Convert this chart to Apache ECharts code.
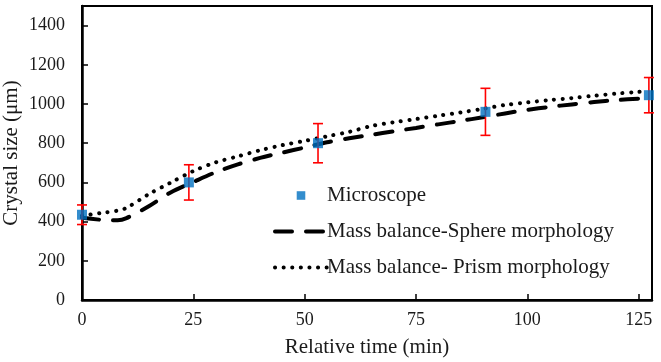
<!DOCTYPE html>
<html>
<head>
<meta charset="utf-8">
<script src="https://cdn.jsdelivr.net/npm/echarts@6/dist/echarts.min.js"></script>
<style>
  html, body { margin: 0; padding: 0; background: #fff; }
  #chart { width: 661px; height: 362px; }
</style>
</head>
<body>
<div id="chart"></div>
<script>
// measured points (microscope) with error bars
var microTime = [0, 24, 53, 90.6, 127.3];
var microSize = [435, 600, 800, 960, 1045];
var microErr = [50, 90, 100, 120, 90];

// mass balance curves
var curveTime = [0, 5, 8, 10, 15, 20, 25, 30, 35, 40, 45, 50, 55, 60, 65, 70, 75, 80, 85, 90, 95, 100, 105, 110, 115, 120, 125, 127];
var sphereSize = [420, 408, 407, 418, 478, 550, 602, 652, 692, 725, 752, 778, 805, 825, 843, 861, 878, 896, 914, 932, 952, 970, 985, 998, 1010, 1020, 1027, 1030];
var prismSize = [430, 446, 456, 470, 540, 600, 658, 702, 733, 764, 790, 812, 835, 858, 888, 907, 923, 940, 957, 975, 995, 1008, 1020, 1030, 1042, 1053, 1062, 1066];

var xTicks = [0, 25, 50, 75, 100, 125];
var yTicks = [0, 200, 400, 600, 800, 1000, 1200, 1400];

var FONT = '"Liberation Serif", "Times New Roman", serif';

var dashStyle = { color: '#000', width: 4, type: [17, 14], cap: 'round' };
var dotStyle = { color: '#000', width: 4, type: [0.1, 8.5], cap: 'round' };

function pairs(xs, ys) {
  var out = [];
  for (var i = 0; i < xs.length; i++) out.push([xs[i], ys[i]]);
  return out;
}

var errData = [];
for (var i = 0; i < microTime.length; i++) {
  errData.push([microTime[i], microSize[i] - microErr[i], microSize[i] + microErr[i]]);
}

var chart = echarts.init(document.getElementById('chart'), null, { renderer: 'canvas' });

chart.setOption({
  animation: false,
  backgroundColor: '#fff',
  grid: {
    left: 82, right: 9, top: 6, bottom: 62,
    outerBoundsMode: 'none',
    containLabel: false,
    show: true,
    borderColor: '#000',
    borderWidth: 2
  },
  legend: {
    orient: 'vertical',
    left: 268,
    top: 180,
    itemWidth: 52,
    itemHeight: 12,
    itemGap: 15,
    textStyle: { fontFamily: FONT, fontSize: 21, color: '#1a1a1a', padding: [0, 0, 0, -5] },
    data: [
      { name: 'Microscope', icon: 'path://M0,0M14,14M2,2H12V12H2Z' },
      { name: 'Mass balance-Sphere morphology', itemStyle: { opacity: 0 }, lineStyle: dashStyle },
      { name: 'Mass balance- Prism morphology', itemStyle: { opacity: 0 }, lineStyle: dotStyle }
    ]
  },
  xAxis: {
    type: 'value',
    min: 0,
    max: 128,
    interval: 25,
    name: 'Relative time (min)',
    nameLocation: 'middle',
    nameGap: 37,
    nameMoveOverlap: false,
    nameTextStyle: { fontFamily: FONT, fontSize: 21, color: '#1a1a1a' },
    axisLine: { lineStyle: { color: '#000', width: 2.5 } },
    axisTick: { inside: true, length: 6, lineStyle: { color: '#000', width: 1.5 } },
    axisLabel: {
      fontFamily: FONT, fontSize: 18, color: '#1a1a1a', margin: 11,
      showMaxLabel: false,
      formatter: function (v) { return xTicks.indexOf(v) >= 0 ? String(v) : ''; }
    },
    splitLine: { show: false }
  },
  yAxis: {
    type: 'value',
    min: 0,
    max: 1500,
    interval: 200,
    name: 'Crystal size (μm)',
    nameLocation: 'middle',
    nameRotate: 90,
    nameGap: 60,
    nameMoveOverlap: false,
    nameTextStyle: { fontFamily: FONT, fontSize: 21, color: '#1a1a1a' },
    axisLine: { lineStyle: { color: '#000', width: 2.5 } },
    axisTick: { inside: true, length: 6, lineStyle: { color: '#000', width: 1.5 } },
    axisLabel: {
      fontFamily: FONT, fontSize: 18, color: '#1a1a1a', margin: 17,
      showMaxLabel: false,
      formatter: function (v) { return yTicks.indexOf(v) >= 0 ? String(v) : ''; }
    },
    splitLine: { show: false }
  },
  series: [
    {
      name: 'Mass balance-Sphere morphology',
      type: 'line',
      smooth: 0.3,
      symbol: 'none',
      color: '#000',
      lineStyle: dashStyle,
      data: pairs(curveTime, sphereSize),
      z: 2
    },
    {
      name: 'Mass balance- Prism morphology',
      type: 'line',
      smooth: 0.3,
      symbol: 'none',
      color: '#000',
      lineStyle: dotStyle,
      data: pairs(curveTime, prismSize),
      z: 2
    },
    {
      name: 'errors',
      type: 'custom',
      clip: false,
      z: 3,
      renderItem: function (params, api) {
        var top = api.coord([api.value(0), api.value(2)]);
        var bot = api.coord([api.value(0), api.value(1)]);
        var w = 5;
        var st = { stroke: '#ff0000', lineWidth: 1.6 };
        return {
          type: 'group',
          children: [
            { type: 'line', shape: { x1: top[0], y1: top[1], x2: bot[0], y2: bot[1] }, style: st },
            { type: 'line', shape: { x1: top[0] - w, y1: top[1], x2: top[0] + w, y2: top[1] }, style: st },
            { type: 'line', shape: { x1: bot[0] - w, y1: bot[1], x2: bot[0] + w, y2: bot[1] }, style: st }
          ]
        };
      },
      encode: { x: 0, y: [1, 2] },
      data: errData
    },
    {
      name: 'Microscope',
      type: 'scatter',
      symbol: 'rect',
      symbolSize: 10,
      clip: false,
      color: '#0070C0',
      itemStyle: { color: '#0070C0' },
      data: pairs(microTime, microSize),
      z: 4
    }
  ]
});
</script>
</body>
</html>
